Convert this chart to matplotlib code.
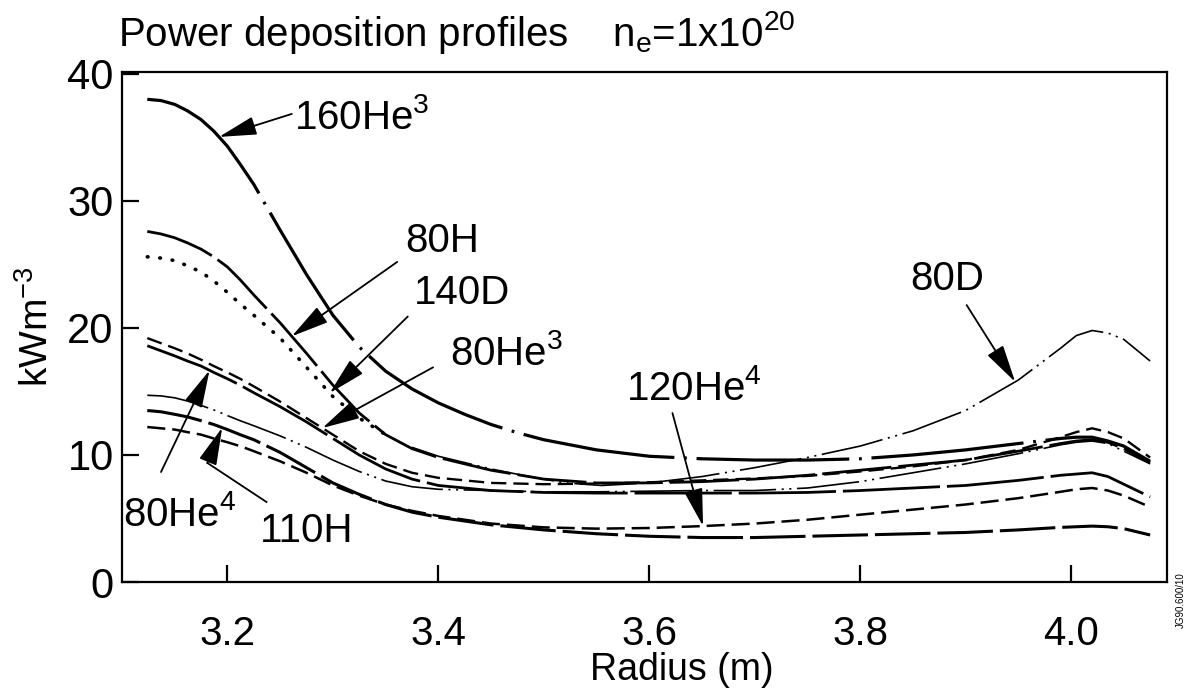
import numpy as np
import matplotlib
matplotlib.use("Agg")
import matplotlib.pyplot as plt

plt.rcParams['font.family'] = ['Liberation Sans', 'DejaVu Sans']
plt.rcParams['mathtext.default'] = 'regular'
plt.rcParams['lines.scale_dashes'] = False

# ---------------- data ----------------
x_he3_160 = [3.124, 3.137, 3.15, 3.162, 3.175, 3.187, 3.2, 3.212, 3.225, 3.25, 3.275, 3.3,
             3.325, 3.35, 3.375, 3.4, 3.425, 3.45, 3.475, 3.5, 3.55, 3.6, 3.65, 3.7, 3.75,
             3.8, 3.85, 3.9, 3.95, 3.99, 4.005, 4.02, 4.035, 4.05, 4.075]
y_he3_160 = [38.0, 37.9, 37.6, 37.1, 36.4, 35.5, 34.3, 32.9, 31.3, 27.7, 24.2, 21.0,
             18.5, 16.6, 15.2, 14.1, 13.2, 12.4, 11.75, 11.2, 10.4, 9.9, 9.7, 9.6, 9.6,
             9.7, 10.0, 10.4, 10.9, 11.3, 11.4, 11.4, 11.1, 10.7, 9.5]

x_std = [3.124, 3.137, 3.15, 3.162, 3.175, 3.187, 3.2, 3.212, 3.225, 3.25, 3.275, 3.3,
         3.325, 3.35, 3.375, 3.4, 3.45, 3.5, 3.55, 3.6, 3.65, 3.7, 3.75, 3.8, 3.85, 3.9,
         3.95, 3.99, 4.005, 4.02, 4.035, 4.05, 4.075]

y_h_80 = [27.6, 27.4, 27.1, 26.7, 26.2, 25.6, 24.8, 23.8, 22.6, 20.4, 18.0, 15.5,
          13.3, 11.6, 10.5, 9.8, 8.8, 8.1, 7.8, 7.8, 7.9, 8.1, 8.4, 8.8, 9.2, 9.6,
          10.3, 10.9, 11.1, 11.2, 11.0, 10.5, 9.4]

x_d_80 = [3.124, 3.137, 3.15, 3.162, 3.175, 3.187, 3.2, 3.212, 3.225, 3.25, 3.275, 3.3,
          3.325, 3.35, 3.375, 3.4, 3.45, 3.48, 3.52, 3.555, 3.6, 3.65, 3.7, 3.75, 3.8,
          3.85, 3.9, 3.95, 3.99, 4.005, 4.02, 4.035, 4.05, 4.075]
y_d_80 = [25.6, 25.5, 25.3, 24.9, 24.4, 23.7, 22.8, 21.9, 21.0, 19.2, 16.9, 14.6,
          12.9, 11.6, 10.6, 9.9, 8.9, 8.4, 7.8, 7.6, 7.8, 8.3, 9.0, 9.8, 10.7,
          11.9, 13.5, 15.9, 18.4, 19.4, 19.8, 19.6, 19.1, 17.4]

y_d_140 = [14.7, 14.65, 14.5, 14.25, 13.9, 13.55, 13.1, 12.7, 12.3, 11.5, 10.6, 9.6,
           8.7, 7.95, 7.5, 7.3, 7.2, 7.1, 7.1, 7.15, 7.2, 7.2, 7.4, 7.9, 8.6, 9.3,
           10.1, 10.8, 11.0, 11.1, 10.9, 10.3, 9.3]

y_he3_80 = [19.2, 18.8, 18.4, 18.0, 17.5, 17.0, 16.5, 16.0, 15.4, 14.2, 12.9, 11.6,
            10.3, 9.3, 8.6, 8.2, 7.8, 7.7, 7.75, 7.85, 8.0, 8.15, 8.35, 8.7, 9.1, 9.6,
            10.4, 11.4, 11.8, 12.1, 11.8, 11.3, 9.8]

y_he4_80 = [18.6, 18.2, 17.8, 17.4, 17.0, 16.5, 16.0, 15.5, 14.9, 13.8, 12.6, 11.3,
            10.0, 8.9, 8.1, 7.6, 7.2, 7.05, 7.0, 7.0, 7.0, 7.0, 7.05, 7.2, 7.4, 7.6,
            8.0, 8.4, 8.5, 8.6, 8.3, 7.7, 6.7]

y_h_110 = [13.5, 13.4, 13.2, 13.0, 12.7, 12.4, 12.0, 11.6, 11.2, 10.2, 9.0, 7.8,
           6.9, 6.1, 5.5, 5.1, 4.5, 4.1, 3.8, 3.6, 3.5, 3.5, 3.6, 3.7, 3.8, 3.9,
           4.1, 4.3, 4.35, 4.4, 4.35, 4.2, 3.7]

y_he4_120 = [12.2, 12.1, 12.0, 11.8, 11.6, 11.3, 11.0, 10.7, 10.3, 9.5, 8.6, 7.6,
             6.8, 6.1, 5.6, 5.2, 4.6, 4.3, 4.2, 4.25, 4.4, 4.6, 4.9, 5.3, 5.7, 6.1,
             6.6, 7.1, 7.3, 7.4, 7.2, 6.8, 5.9]

x_ticks = [3.2, 3.4, 3.6, 3.8, 4.0]
x_ticklabels = ["3.2", "3.4", "3.6", "3.8", "4.0"]
y_ticks = [0, 10, 20, 30, 40]
y_ticklabels = ["0", "10", "20", "30", "40"]

# ---------------- figure ----------------
W, H = 1187, 688
fig = plt.figure(figsize=(W / 100, H / 100), dpi=100)
ax = fig.add_axes([122 / W, 1 - 582 / H, (1167 - 122) / W, (582 - 72) / H])
ax.set_xlim(3.10, 4.091)
ax.set_ylim(0, 40.15)

k = 'black'
ax.plot(x_he3_160, y_he3_160, color=k, lw=2.3, dashes=(110, 7, 2, 7))
ax.plot(x_std, y_h_80, color=k, lw=2.0, dashes=(50, 5))
xd = np.array(x_d_80); yd = np.array(y_d_80)
m = xd <= 3.35
ax.plot(xd[m], yd[m], color=k, lw=2.6, dashes=(0.5, 8.5), dash_capstyle='round')
ax.plot(xd[~m], yd[~m], color=k, lw=1.2, dashes=(45, 4, 1.5, 4, 1.5, 4))
ax.plot(x_std, y_d_140, color=k, lw=1.2, dashes=(45, 4, 1.5, 4, 1.5, 4))
ax.plot(x_std, y_he3_80, color=k, lw=1.7, dashes=(11, 5))
ax.plot(x_std, y_he4_80, color=k, lw=2.0, dashes=(70, 5))
ax.plot(x_std, y_h_110, color=k, lw=2.2, dashes=(40, 5))
ax.plot(x_std, y_he4_120, color=k, lw=1.8, dashes=(13, 5))

ax.set_xticks(x_ticks)
ax.set_xticklabels(x_ticklabels)
ax.set_yticks(y_ticks)
ax.set_yticklabels(y_ticklabels)
ax.tick_params(axis='x', direction='in', length=12, width=1.6, labelsize=29, pad=24)
ax.tick_params(axis='y', direction='in', length=12, width=1.6, labelsize=30, pad=6)
for s in ax.spines.values():
    s.set_linewidth(1.6)

fig.text(682 / W, 1 - 670 / H, "Radius (m)", fontsize=27, ha='center', va='center')
ax.set_ylabel("kWm$^{-3}$", fontsize=28, labelpad=8)

fig.text(118 / W, 1 - 33 / H, "Power deposition profiles    n$_{e}$=1x10$^{20}$",
         fontsize=29, ha='left', va='center')
fig.text(1181 / W, 1 - 600 / H, "JG90.600/10", rotation=90, fontsize=7,
         ha='center', va='center')

# ---------------- annotations ----------------
ap = dict(arrowstyle='-|>,head_length=1.3,head_width=0.32', color=k, lw=1.3,
          shrinkA=0, shrinkB=0, mutation_scale=18)
fs = 29

def tip(xs, ys, xv):
    return (xv, float(np.interp(xv, xs, ys)))

ax.annotate("", xy=tip(x_he3_160, y_he3_160, 3.192), xytext=(3.261, 36.85), arrowprops=ap)
ax.text(3.263, 36.6, "160He$^3$", fontsize=fs, ha='left', va='center')

ax.annotate("", xy=tip(x_std, y_h_80, 3.261), xytext=(3.361, 25.2), arrowprops=ap)
ax.text(3.404, 26.85, "80H", fontsize=fs, ha='center', va='center')

ax.annotate("", xy=tip(x_d_80, y_d_80, 3.297), xytext=(3.371, 20.9), arrowprops=ap)
ax.text(3.422, 22.76, "140D", fontsize=fs, ha='center', va='center')

ax.annotate("", xy=tip(x_std, y_he3_80, 3.290), xytext=(3.395, 16.9), arrowprops=ap)
ax.text(3.465, 18.0, "80He$^3$", fontsize=fs, ha='center', va='center')

ax.annotate("", xy=tip(x_d_80, y_d_80, 3.947), xytext=(3.901, 21.8), arrowprops=ap)
ax.text(3.883, 23.86, "80D", fontsize=fs, ha='center', va='center')

ax.annotate("", xy=tip(x_std, y_he4_120, 3.651), xytext=(3.622, 13.3), arrowprops=ap)
ax.text(3.642, 15.2, "120He$^4$", fontsize=fs, ha='center', va='center')

ax.annotate("", xy=tip(x_std, y_he4_80, 3.183), xytext=(3.137, 8.66), arrowprops=ap)
ax.text(3.155, 5.35, "80He$^4$", fontsize=fs, ha='center', va='center')

ax.plot([3.237, 3.181], [6.3, 9.37], color=k, lw=1.3)
ax.annotate("", xy=tip(x_std, y_h_110, 3.195), xytext=(3.181, 9.37), arrowprops=ap)
ax.text(3.275, 4.0, "110H", fontsize=fs, ha='center', va='center')

fig.savefig("out.png", dpi=100)
